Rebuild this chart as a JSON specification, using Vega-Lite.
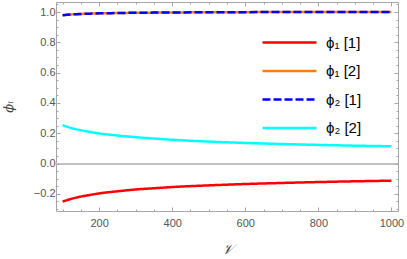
{
  "$schema": "https://vega.github.io/schema/vega-lite/v6.json",
  "width": 342,
  "height": 209,
  "autosize": {"type": "none"},
  "padding": {"left": 56, "top": 2, "right": 9, "bottom": 48},
  "background": "white",
  "config": {
    "view": {"stroke": "#a6a6a6", "strokeWidth": 1},
    "axis": {"domain": false, "grid": false, "tickColor": "#a6a6a6", "tickWidth": 1, "labelColor": "#555555", "labelFont": "Liberation Sans", "labelFontSize": 11, "titleColor": "#444444", "titleFont": "DejaVu Serif", "titleFontWeight": "normal"}
  },
  "data": {
    "values": [
      {"v": 100, "phi": -0.251, "s": "ϕ₁ [1]"}, {"v": 125, "phi": -0.232, "s": "ϕ₁ [1]"}, {"v": 150, "phi": -0.218, "s": "ϕ₁ [1]"}, {"v": 175, "phi": -0.207, "s": "ϕ₁ [1]"}, {"v": 200, "phi": -0.197, "s": "ϕ₁ [1]"}, {"v": 250, "phi": -0.183, "s": "ϕ₁ [1]"}, {"v": 300, "phi": -0.171, "s": "ϕ₁ [1]"}, {"v": 350, "phi": -0.163, "s": "ϕ₁ [1]"}, {"v": 400, "phi": -0.155, "s": "ϕ₁ [1]"}, {"v": 500, "phi": -0.144, "s": "ϕ₁ [1]"}, {"v": 600, "phi": -0.135, "s": "ϕ₁ [1]"}, {"v": 700, "phi": -0.128, "s": "ϕ₁ [1]"}, {"v": 800, "phi": -0.122, "s": "ϕ₁ [1]"}, {"v": 900, "phi": -0.117, "s": "ϕ₁ [1]"}, {"v": 1000, "phi": -0.113, "s": "ϕ₁ [1]"},
      {"v": 100, "phi": 0.979, "s": "ϕ₁ [2]"}, {"v": 125, "phi": 0.984, "s": "ϕ₁ [2]"}, {"v": 150, "phi": 0.987, "s": "ϕ₁ [2]"}, {"v": 175, "phi": 0.989, "s": "ϕ₁ [2]"}, {"v": 200, "phi": 0.991, "s": "ϕ₁ [2]"}, {"v": 250, "phi": 0.993, "s": "ϕ₁ [2]"}, {"v": 300, "phi": 0.995, "s": "ϕ₁ [2]"}, {"v": 350, "phi": 0.996, "s": "ϕ₁ [2]"}, {"v": 400, "phi": 0.997, "s": "ϕ₁ [2]"}, {"v": 500, "phi": 0.998, "s": "ϕ₁ [2]"}, {"v": 600, "phi": 0.999, "s": "ϕ₁ [2]"}, {"v": 700, "phi": 1.0, "s": "ϕ₁ [2]"}, {"v": 800, "phi": 1.0, "s": "ϕ₁ [2]"}, {"v": 900, "phi": 1.0, "s": "ϕ₁ [2]"}, {"v": 1000, "phi": 1.0, "s": "ϕ₁ [2]"},
      {"v": 100, "phi": 0.979, "s": "ϕ₂ [1]"}, {"v": 125, "phi": 0.984, "s": "ϕ₂ [1]"}, {"v": 150, "phi": 0.987, "s": "ϕ₂ [1]"}, {"v": 175, "phi": 0.989, "s": "ϕ₂ [1]"}, {"v": 200, "phi": 0.991, "s": "ϕ₂ [1]"}, {"v": 250, "phi": 0.993, "s": "ϕ₂ [1]"}, {"v": 300, "phi": 0.995, "s": "ϕ₂ [1]"}, {"v": 350, "phi": 0.996, "s": "ϕ₂ [1]"}, {"v": 400, "phi": 0.997, "s": "ϕ₂ [1]"}, {"v": 500, "phi": 0.998, "s": "ϕ₂ [1]"}, {"v": 600, "phi": 0.999, "s": "ϕ₂ [1]"}, {"v": 700, "phi": 1.0, "s": "ϕ₂ [1]"}, {"v": 800, "phi": 1.0, "s": "ϕ₂ [1]"}, {"v": 900, "phi": 1.0, "s": "ϕ₂ [1]"}, {"v": 1000, "phi": 1.0, "s": "ϕ₂ [1]"},
      {"v": 100, "phi": 0.253, "s": "ϕ₂ [2]"}, {"v": 125, "phi": 0.234, "s": "ϕ₂ [2]"}, {"v": 150, "phi": 0.220, "s": "ϕ₂ [2]"}, {"v": 175, "phi": 0.209, "s": "ϕ₂ [2]"}, {"v": 200, "phi": 0.199, "s": "ϕ₂ [2]"}, {"v": 250, "phi": 0.185, "s": "ϕ₂ [2]"}, {"v": 300, "phi": 0.174, "s": "ϕ₂ [2]"}, {"v": 350, "phi": 0.165, "s": "ϕ₂ [2]"}, {"v": 400, "phi": 0.157, "s": "ϕ₂ [2]"}, {"v": 500, "phi": 0.145, "s": "ϕ₂ [2]"}, {"v": 600, "phi": 0.136, "s": "ϕ₂ [2]"}, {"v": 700, "phi": 0.129, "s": "ϕ₂ [2]"}, {"v": 800, "phi": 0.123, "s": "ϕ₂ [2]"}, {"v": 900, "phi": 0.118, "s": "ϕ₂ [2]"}, {"v": 1000, "phi": 0.114, "s": "ϕ₂ [2]"}
    ]
  },
  "layer": [
    {
      "mark": {"type": "rule", "color": "#c4c4c4", "strokeWidth": 1},
      "encoding": {"y": {"datum": 0, "type": "quantitative", "axis": null}}
    },
    {
      "mark": {"type": "line", "strokeWidth": 2.5, "interpolate": "monotone"},
      "encoding": {
        "x": {
          "field": "v", "type": "quantitative",
          "scale": {"domain": [82, 1018], "nice": false, "zero": false},
          "axis": {
            "orient": "bottom", "title": "𝒱", "titleFontSize": 14, "titleFontStyle": "italic", "titlePadding": 12,
            "values": [100, 150, 200, 250, 300, 350, 400, 450, 500, 550, 600, 650, 700, 750, 800, 850, 900, 950, 1000],
            "format": "d",
            "labelExpr": "datum.value % 200 == 0 ? datum.label : ''",
            "tickSize": {"condition": {"test": "datum.value % 200 == 0", "value": -4}, "value": -2},
            "labelPadding": 10, "labelFlush": false, "labelOverlap": false
          }
        },
        "y": {
          "field": "phi", "type": "quantitative",
          "scale": {"domain": [-0.313, 1.066], "nice": false, "zero": false},
          "axis": {
            "orient": "left", "title": "ϕᵢ", "titleFontSize": 13, "titleFontStyle": "italic", "titlePadding": 18,
            "values": [-0.3, -0.25, -0.2, -0.15, -0.1, -0.05, 0, 0.05, 0.1, 0.15, 0.2, 0.25, 0.3, 0.35, 0.4, 0.45, 0.5, 0.55, 0.6, 0.65, 0.7, 0.75, 0.8, 0.85, 0.9, 0.95, 1.0, 1.05],
            "format": ".1f",
            "labelExpr": "abs(datum.value*5 - round(datum.value*5)) < 0.001 ? datum.label : ''",
            "tickSize": {"condition": {"test": "abs(datum.value*5 - round(datum.value*5)) < 0.001", "value": -4}, "value": -2},
            "labelPadding": 5, "labelOverlap": false
          }
        },
        "color": {
          "field": "s", "type": "nominal",
          "scale": {"domain": ["ϕ₁ [1]", "ϕ₁ [2]", "ϕ₂ [1]", "ϕ₂ [2]"], "range": ["#ff0000", "#ff8000", "#0000ff", "#00ffff"]},
          "legend": {
            "title": null, "orient": "none", "legendX": 223, "legendY": 30,
            "symbolType": "M-3,0H3", "symbolSize": 324, "symbolStrokeWidth": 2.5, "symbolFillColor": "transparent",
            "labelFont": "Liberation Sans", "labelFontSize": 15, "labelColor": "#000000", "labelOffset": 26,
            "rowPadding": 9.5
          }
        },
        "strokeDash": {
          "field": "s", "type": "nominal",
          "scale": {"domain": ["ϕ₁ [1]", "ϕ₁ [2]", "ϕ₂ [1]", "ϕ₂ [2]"], "range": [[1, 0], [1, 0], [8, 3], [1, 0]]},
          "legend": {"title": null, "orient": "none", "legendX": 223, "legendY": 30}
        }
      }
    },
    {
      "mark": {"type": "point", "opacity": 0},
      "encoding": {
        "x": {
          "field": "v", "type": "quantitative",
          "axis": {
            "orient": "top", "title": null, "labels": false,
            "values": [100, 150, 200, 250, 300, 350, 400, 450, 500, 550, 600, 650, 700, 750, 800, 850, 900, 950, 1000],
            "tickSize": {"condition": {"test": "datum.value % 200 == 0", "value": -4}, "value": -2}
          }
        },
        "y": {
          "field": "phi", "type": "quantitative",
          "axis": {
            "orient": "right", "title": null, "labels": false,
            "values": [-0.3, -0.25, -0.2, -0.15, -0.1, -0.05, 0, 0.05, 0.1, 0.15, 0.2, 0.25, 0.3, 0.35, 0.4, 0.45, 0.5, 0.55, 0.6, 0.65, 0.7, 0.75, 0.8, 0.85, 0.9, 0.95, 1.0, 1.05],
            "tickSize": {"condition": {"test": "abs(datum.value*5 - round(datum.value*5)) < 0.001", "value": -4}, "value": -2}
          }
        }
      }
    }
  ],
  "resolve": {"axis": {"x": "independent", "y": "independent"}}
}
